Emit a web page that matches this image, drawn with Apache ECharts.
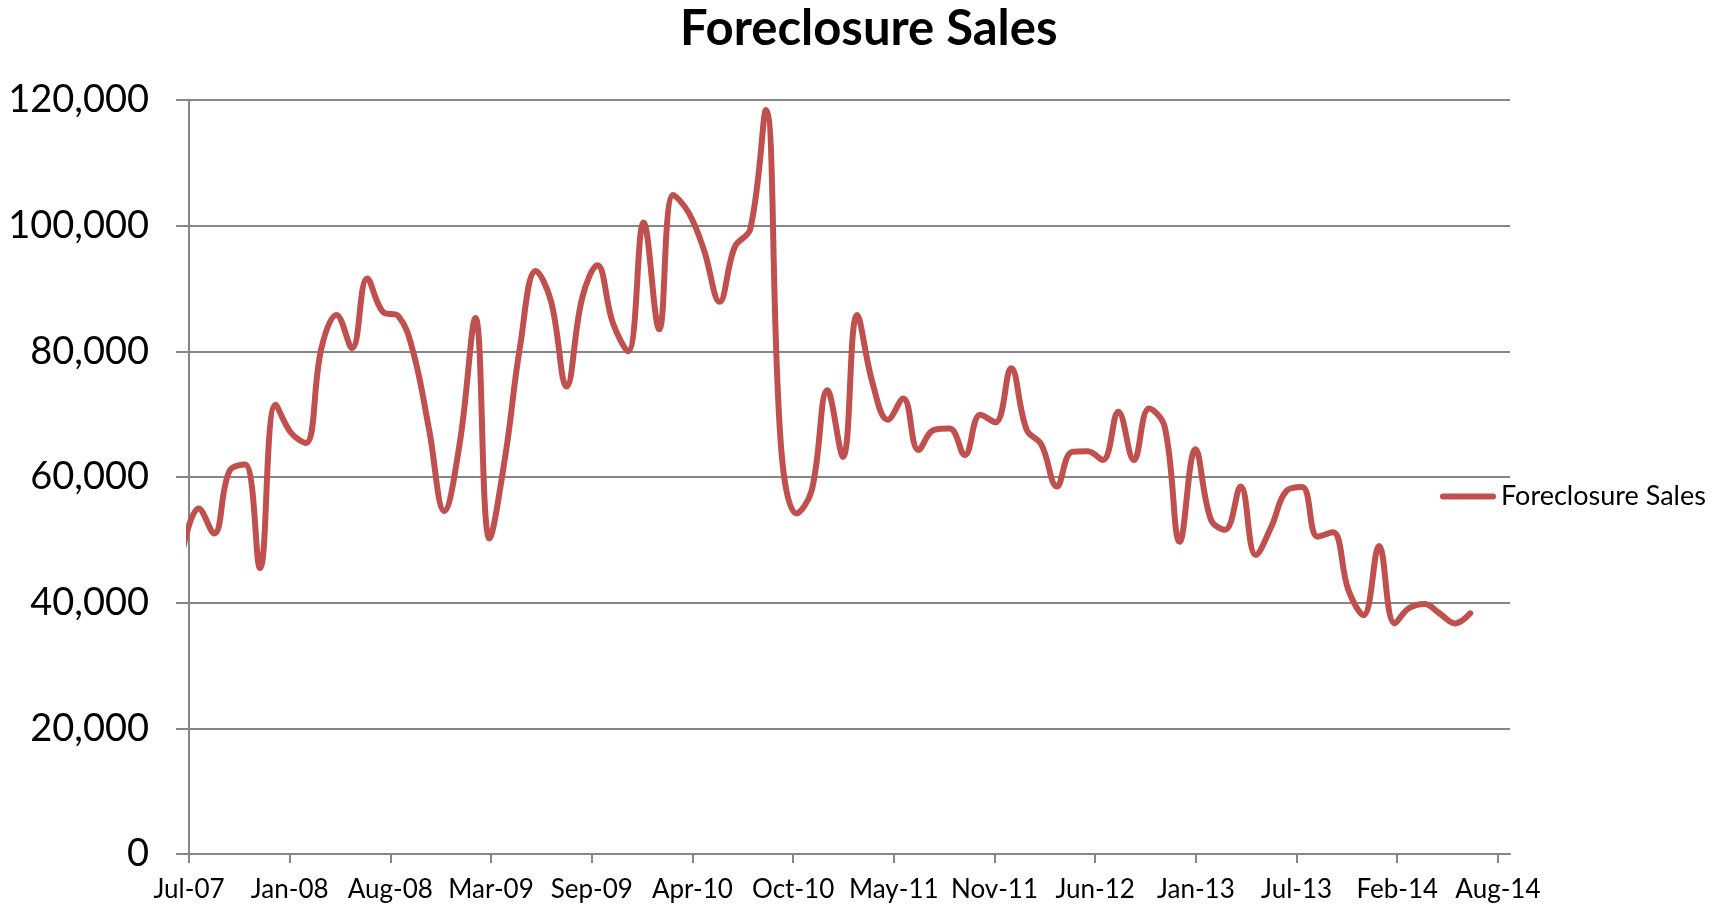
<!DOCTYPE html>
<html>
<head>
<meta charset="utf-8">
<title>Foreclosure Sales</title>
<script src="https://cdn.jsdelivr.net/npm/echarts@6/dist/echarts.min.js"></script>
<style>
  html, body { margin: 0; padding: 0; background: #fff; }
  #chart { width: 1727px; height: 907px; }
</style>
</head>
<body>
<div id="chart"></div>
<script>
// monthly foreclosure sales, Jul-07 .. Jul-14
const sales = [
  48500, 55000, 51000, 60900, 62000, 45500,            // 2007 Jul-Dec
  71500, 67000, 65400, 80500, 85800, 80500,            // 2008 Jan-Jun
  91600, 86300, 85600, 79700, 67500, 54600,            // 2008 Jul-Dec
  65500, 85300, 50200, 63200, 81000, 92800,            // 2009 Jan-Jun
  88000, 74400, 88500, 93700, 84500, 80000,            // 2009 Jul-Dec
  100500, 83500, 104900, 102000, 96100, 87900,         // 2010 Jan-Jun
  96600, 99500, 118400, 64800, 54200, 57900,           // 2010 Jul-Dec
  73800, 63200, 85800, 74900, 69100, 72500,            // 2011 Jan-Jun
  64300, 67500, 67700, 63500, 69900, 68700,            // 2011 Jul-Dec
  77300, 67500, 65200, 58500, 64000, 64100,            // 2012 Jan-Jun
  62700, 70400, 62700, 70900, 68000, 49700,            // 2012 Jul-Dec
  64400, 53200, 51600, 58500, 47600, 52100,            // 2013 Jan-Jun
  57800, 58400, 50500, 51200, 42000, 38000,            // 2013 Jul-Dec
  49000, 36700, 39100, 39800, 38300, 36700,            // 2014 Jan-Jun
  38300                                                // 2014 Jul
]
const firstYear = 2007
const firstMonth = 6 // July

// the original uses a date axis: it starts a few days into Jul-07, one tick every 200 days
const tickLabels = ['Jul-07', 'Jan-08', 'Aug-08', 'Mar-09', 'Sep-09', 'Apr-10', 'Oct-10',
  'May-11', 'Nov-11', 'Jun-12', 'Jan-13', 'Jul-13', 'Feb-14', 'Aug-14']
const axisStartDay = 12
const tickStepDays = 200
const axisEndDay = 2636

const DAY = 86400000
const origin = Date.UTC(firstYear, firstMonth, 1)
const points = sales.map((v, i) => [(Date.UTC(firstYear, firstMonth + i, 1) - origin) / DAY, v])
const tickDays = tickLabels.map((_, k) => axisStartDay + k * tickStepDays)

const font = 'Lato, "Open Sans", sans-serif'
const gridColor = '#868686'
const lineColor = '#C0504D'

const chart = echarts.init(document.getElementById('chart'))
chart.setOption({
  animation: false,
  title: {
    text: 'Foreclosure Sales',
    left: 675,
    top: 0,
    textStyle: { fontFamily: font, fontSize: 49, fontWeight: 'bold', color: '#000' }
  },
  legend: {
    data: ['Foreclosure Sales'],
    left: 1435,
    top: 478,
    itemWidth: 56,
    itemHeight: 6,
    icon: 'path://M3,0H53A3,3 0 0 1 53,6H3A3,3 0 0 1 3,0Z',
    textStyle: { fontFamily: font, fontSize: 27, color: '#000' }
  },
  grid: { left: 189, right: 217, top: 100, bottom: 53, outerBoundsMode: 'none' },
  xAxis: {
    type: 'value',
    min: axisStartDay,
    max: axisEndDay,
    axisLine: { lineStyle: { color: gridColor, width: 2 } },
    axisTick: { customValues: tickDays, length: 9, lineStyle: { color: gridColor, width: 2 } },
    axisLabel: {
      customValues: tickDays,
      formatter: v => tickLabels[Math.round((v - axisStartDay) / tickStepDays)],
      margin: 23,
      fontFamily: font,
      fontSize: 26,
      color: '#000'
    },
    splitLine: { show: false }
  },
  yAxis: {
    type: 'value',
    min: 0,
    max: 120000,
    interval: 20000,
    axisLine: { show: true, lineStyle: { color: gridColor, width: 2 } },
    axisTick: { show: true, length: 13, lineStyle: { color: gridColor, width: 2 } },
    axisLabel: {
      formatter: v => v.toLocaleString('en-US'),
      margin: 40,
      fontFamily: font,
      fontSize: 38,
      color: '#000'
    },
    splitLine: { lineStyle: { color: gridColor, width: 2 } }
  },
  series: [{
    name: 'Foreclosure Sales',
    type: 'line',
    data: points,
    smooth: 0.4,
    symbol: 'none',
    itemStyle: { color: lineColor },
    lineStyle: { color: lineColor, width: 6, cap: 'round', join: 'round' }
  }]
})
</script>
</body>
</html>
